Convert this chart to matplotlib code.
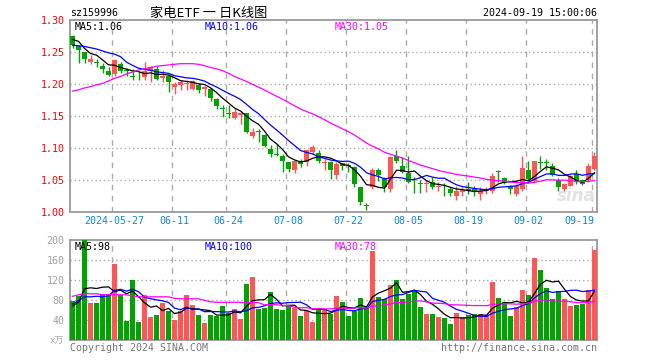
import numpy as np
import pandas as pd
import matplotlib
matplotlib.use('Agg')
import matplotlib.pyplot as plt

# Trading days shown (exchange holidays removed)
holidays = ['2024-06-10', '2024-09-16', '2024-09-17']
dates = pd.bdate_range('2024-05-16', '2024-09-19').drop(pd.to_datetime(holidays))

tick_dates = ['2024-05-27', '2024-06-11', '2024-06-24', '2024-07-08', '2024-07-22',
              '2024-08-05', '2024-08-19', '2024-09-02', '2024-09-19']
tick_labels = ['2024-05-27', '06-11', '06-24', '07-08', '07-22', '08-05', '08-19', '09-02', '09-19']

# Daily OHLC
opens = [1.276, 1.260, 1.250, 1.234, 1.234, 1.228, 1.220, 1.216, 1.232, 1.222,
         1.213, 1.210, 1.211, 1.221, 1.224, 1.209, 1.213, 1.195, 1.199, 1.200,
         1.193, 1.198, 1.192, 1.192, 1.176, 1.162, 1.154, 1.147, 1.152, 1.154,
         1.118, 1.126, 1.121, 1.099, 1.090, 1.088, 1.078, 1.066, 1.079, 1.078,
         1.094, 1.092, 1.077, 1.078, 1.058, 1.076, 1.073, 1.070, 1.038, 1.010,
         1.039, 1.065, 1.053, 1.036, 1.088, 1.072, 1.061, 1.047, 1.045, 1.044,
         1.047, 1.038, 1.039, 1.035, 1.025, 1.031, 1.036, 1.035, 1.028, 1.032,
         1.033, 1.063, 1.053, 1.040, 1.027, 1.035, 1.066, 1.048, 1.077, 1.077,
         1.072, 1.050, 1.035, 1.041, 1.059, 1.049, 1.050, 1.067]
highs = [1.277, 1.261, 1.251, 1.245, 1.239, 1.233, 1.227, 1.239, 1.234, 1.225,
         1.223, 1.220, 1.234, 1.229, 1.229, 1.222, 1.216, 1.204, 1.206, 1.207,
         1.207, 1.202, 1.197, 1.194, 1.178, 1.168, 1.167, 1.163, 1.156, 1.155,
         1.131, 1.130, 1.122, 1.104, 1.106, 1.090, 1.078, 1.080, 1.082, 1.097,
         1.104, 1.096, 1.082, 1.079, 1.078, 1.077, 1.076, 1.071, 1.039, 1.013,
         1.068, 1.068, 1.055, 1.087, 1.096, 1.085, 1.088, 1.054, 1.050, 1.050,
         1.054, 1.046, 1.045, 1.039, 1.040, 1.038, 1.046, 1.040, 1.038, 1.038,
         1.060, 1.065, 1.055, 1.042, 1.043, 1.087, 1.079, 1.080, 1.088, 1.082,
         1.076, 1.053, 1.045, 1.058, 1.065, 1.052, 1.076, 1.093]
lows = [1.256, 1.233, 1.233, 1.232, 1.227, 1.217, 1.212, 1.213, 1.217, 1.212,
        1.207, 1.207, 1.207, 1.204, 1.207, 1.204, 1.187, 1.185, 1.191, 1.191,
        1.191, 1.186, 1.182, 1.173, 1.161, 1.148, 1.147, 1.145, 1.138, 1.123,
        1.116, 1.109, 1.102, 1.085, 1.087, 1.062, 1.062, 1.061, 1.070, 1.071,
        1.091, 1.077, 1.066, 1.052, 1.052, 1.066, 1.062, 1.039, 1.010, 1.002,
        1.035, 1.048, 1.031, 1.031, 1.077, 1.061, 1.045, 1.030, 1.030, 1.031,
        1.036, 1.032, 1.024, 1.025, 1.019, 1.024, 1.027, 1.024, 1.019, 1.027,
        1.029, 1.047, 1.043, 1.027, 1.025, 1.033, 1.049, 1.046, 1.067, 1.066,
        1.056, 1.033, 1.033, 1.040, 1.044, 1.042, 1.047, 1.065]
closes = [1.261, 1.254, 1.240, 1.239, 1.233, 1.224, 1.215, 1.237, 1.221, 1.220,
          1.211, 1.209, 1.221, 1.227, 1.208, 1.212, 1.203, 1.200, 1.204, 1.202,
          1.205, 1.191, 1.195, 1.178, 1.165, 1.161, 1.153, 1.156, 1.154, 1.125,
          1.125, 1.125, 1.103, 1.091, 1.089, 1.080, 1.067, 1.079, 1.075, 1.096,
          1.101, 1.080, 1.078, 1.065, 1.075, 1.072, 1.072, 1.044, 1.015, 1.009,
          1.066, 1.057, 1.038, 1.085, 1.079, 1.063, 1.046, 1.046, 1.044, 1.045,
          1.039, 1.040, 1.038, 1.029, 1.032, 1.034, 1.032, 1.031, 1.033, 1.036,
          1.056, 1.062, 1.045, 1.036, 1.040, 1.069, 1.052, 1.079, 1.076, 1.076,
          1.058, 1.039, 1.044, 1.056, 1.046, 1.044, 1.072, 1.087]

# Volume in 万
volumes = [79, 89, 200, 75, 75, 92, 92, 152, 91, 38,
           120, 36, 91, 46, 50, 74, 58, 40, 58, 91,
           70, 51, 34, 50, 48, 68, 55, 62, 42, 112,
           126, 62, 64, 96, 62, 60, 68, 65, 48, 58,
           36, 63, 62, 53, 88, 76, 48, 58, 84, 66,
           178, 86, 82, 110, 120, 82, 92, 98, 66, 52,
           52, 46, 44, 32, 54, 46, 50, 52, 52, 50,
           116, 84, 76, 48, 66, 100, 90, 164, 141, 105,
           83, 99, 83, 68, 70, 72, 101, 180]

# Moving-average values at the left edge (they depend on days before the window)
ma5_lead = [1.270, 1.267, 1.256, 1.248]
ma10_lead = [1.261, 1.260, 1.259, 1.257, 1.255, 1.252, 1.249, 1.247, 1.243]
ma30_lead = [1.189, 1.191, 1.194, 1.196, 1.199, 1.201, 1.205, 1.209, 1.212, 1.216,
             1.219, 1.222, 1.224, 1.226, 1.228, 1.229, 1.230, 1.231, 1.232, 1.232,
             1.232, 1.231, 1.229, 1.226, 1.224, 1.221, 1.217, 1.212, 1.208]
vma5_lead = [69, 76, 103, 105]
vma10_lead = [73, 79, 87, 87, 88, 87, 89, 100, 102]
vma30_lead = [88, 91, 93, 93, 93, 91, 91, 91, 91, 91,
              89, 87, 87, 87, 87, 87, 87, 84, 83, 83,
              83, 83, 80, 77, 76, 76, 76, 76, 76]


def moving_average(values, n, lead):
    ma = pd.Series(values, dtype=float).rolling(n).mean().to_numpy()
    ma[:len(lead)] = lead
    return ma


o = np.array(opens)
h = np.array(highs)
l = np.array(lows)
c = np.array(closes)
v = np.array(volumes, dtype=float)
x = np.arange(len(dates))

ma5 = moving_average(closes, 5, ma5_lead)
ma10 = moving_average(closes, 10, ma10_lead)
ma30 = moving_average(closes, 30, ma30_lead)
vma5 = moving_average(volumes, 5, vma5_lead)
vma10 = moving_average(volumes, 10, vma10_lead)
vma30 = moving_average(volumes, 30, vma30_lead)

RED = '#ff5555'
GREEN = '#00a300'
GRID = '#aaaaaa'
FRAME = '#999999'
colors = np.where(c > o, RED, GREEN)

plt.rcParams['font.family'] = ['DejaVu Sans Mono', 'Noto Sans CJK SC']

W, H = 660, 360
fig = plt.figure(figsize=(6.6, 3.6), dpi=100, facecolor='white')
ax1 = fig.add_axes([70 / W, 1 - 211.7 / H, 527 / W, 191.4 / H])
ax2 = fig.add_axes([70 / W, 1 - 340.3 / H, 527 / W, 100 / H])

tick_pos = [dates.get_loc(pd.Timestamp(d)) for d in tick_dates]

for ax in (ax1, ax2):
    ax.set_xlim(-0.42, len(x) - 0.58)
    for s in ax.spines.values():
        s.set_color(FRAME)
        s.set_linewidth(1.3)
    for p in tick_pos:
        ax.axvline(p - 0.35, color=GRID, lw=1, ls=(0, (4, 4)), zorder=0)
    ax.tick_params(length=0)

# Candles
ax1.vlines(x, l, h, colors=colors, lw=1, zorder=2)
ax1.bar(x, np.maximum(np.abs(c - o), 0.0012), bottom=np.minimum(o, c),
        width=0.82, color=colors, linewidth=0, zorder=3)
ax1.plot(x, ma5, color='black', lw=0.9, zorder=4)
ax1.plot(x, ma10, color='#0000ff', lw=0.9, zorder=4)
ax1.plot(x, ma30, color='#ff00ff', lw=0.9, zorder=4)
ax1.set_ylim(1.0, 1.3)
price_ticks = [1.00, 1.05, 1.10, 1.15, 1.20, 1.25, 1.30]
for t in price_ticks[1:-1]:
    ax1.axhline(t, color=GRID, lw=1, ls=(0, (1, 2)), zorder=0)
ax1.set_yticks(price_ticks)
ax1.set_yticklabels([f'{t:.2f}' for t in price_ticks], color='#ff0000', fontsize=7.2)
ax1.tick_params(axis='y', pad=4)
ax1.set_xticks(tick_pos)
ax1.set_xticklabels(tick_labels, color='#0a88d8', fontsize=7.2)
ax1.tick_params(axis='x', pad=3)
ax1.get_xticklabels()[-1].set_horizontalalignment('right')
ax1.get_xticklabels()[-1].set_x(tick_pos[-1] + 0.3)
ax1.text(0.997, 0.035, 'sina', transform=ax1.transAxes, ha='right', va='bottom',
         fontsize=12, fontstyle='italic', fontweight='bold', color='#e2e2e2',
         family='DejaVu Sans', zorder=1)

# Volume
ax2.bar(x, v, width=0.82, color=colors, linewidth=0, zorder=3)
ax2.plot(x, vma5, color='black', lw=0.9, zorder=4)
ax2.plot(x, vma10, color='#0000ff', lw=0.9, zorder=4)
ax2.plot(x, vma30, color='#ff00ff', lw=0.9, zorder=4)
ax2.set_ylim(0, 200)
vol_ticks = [40, 80, 120, 160, 200]
for t in vol_ticks[:-1]:
    ax2.axhline(t, color=GRID, lw=1, ls=(0, (1, 2)), zorder=0)
ax2.set_yticks(vol_ticks)
ax2.set_yticklabels([str(t) for t in vol_ticks], color='#a0a0a0', fontsize=7.2)
ax2.tick_params(axis='y', pad=4)
ax2.set_xticks([])


def px_text(px, py, s, **kw):
    fig.text(px / W, 1 - py / H, s, va='center', **kw)


# Header and legends
px_text(70, 13, 'sz159996', fontsize=7.2, color='black')
px_text(209, 13, '家电ETF 一 日K线图', fontsize=9.5, color='black', ha='center',
        family=['Noto Sans CJK SC', 'DejaVu Sans'])
px_text(597, 13, '2024-09-19 15:00:06', fontsize=7.2, color='black', ha='right')
px_text(75, 27, f'MA5:{ma5[-1]:.2f}', fontsize=7.2, color='black')
px_text(205, 27, f'MA10:{ma10[-1]:.2f}', fontsize=7.2, color='#0000ff')
px_text(335, 27, f'MA30:{ma30[-1]:.2f}', fontsize=7.2, color='#ff00ff')
px_text(75, 247, f'MA5:{vma5[-1]:.0f}', fontsize=7.2, color='black')
px_text(205, 247, f'MA10:{vma10[-1]:.0f}', fontsize=7.2, color='#0000ff')
px_text(335, 247, f'MA30:{vma30[-1]:.0f}', fontsize=7.2, color='#ff00ff')

# Footer
px_text(64, 341, 'x万', fontsize=6.5, color='#aaaaaa', ha='right',
        family=['DejaVu Sans Mono', 'Noto Sans CJK SC'])
px_text(70, 348, 'Copyright 2024 SINA.COM', fontsize=7.2, color='#777777')
px_text(597, 348, 'http://finance.sina.com.cn', fontsize=7.2, color='#777777', ha='right')

fig.savefig('out.png', dpi=100, facecolor='white')
